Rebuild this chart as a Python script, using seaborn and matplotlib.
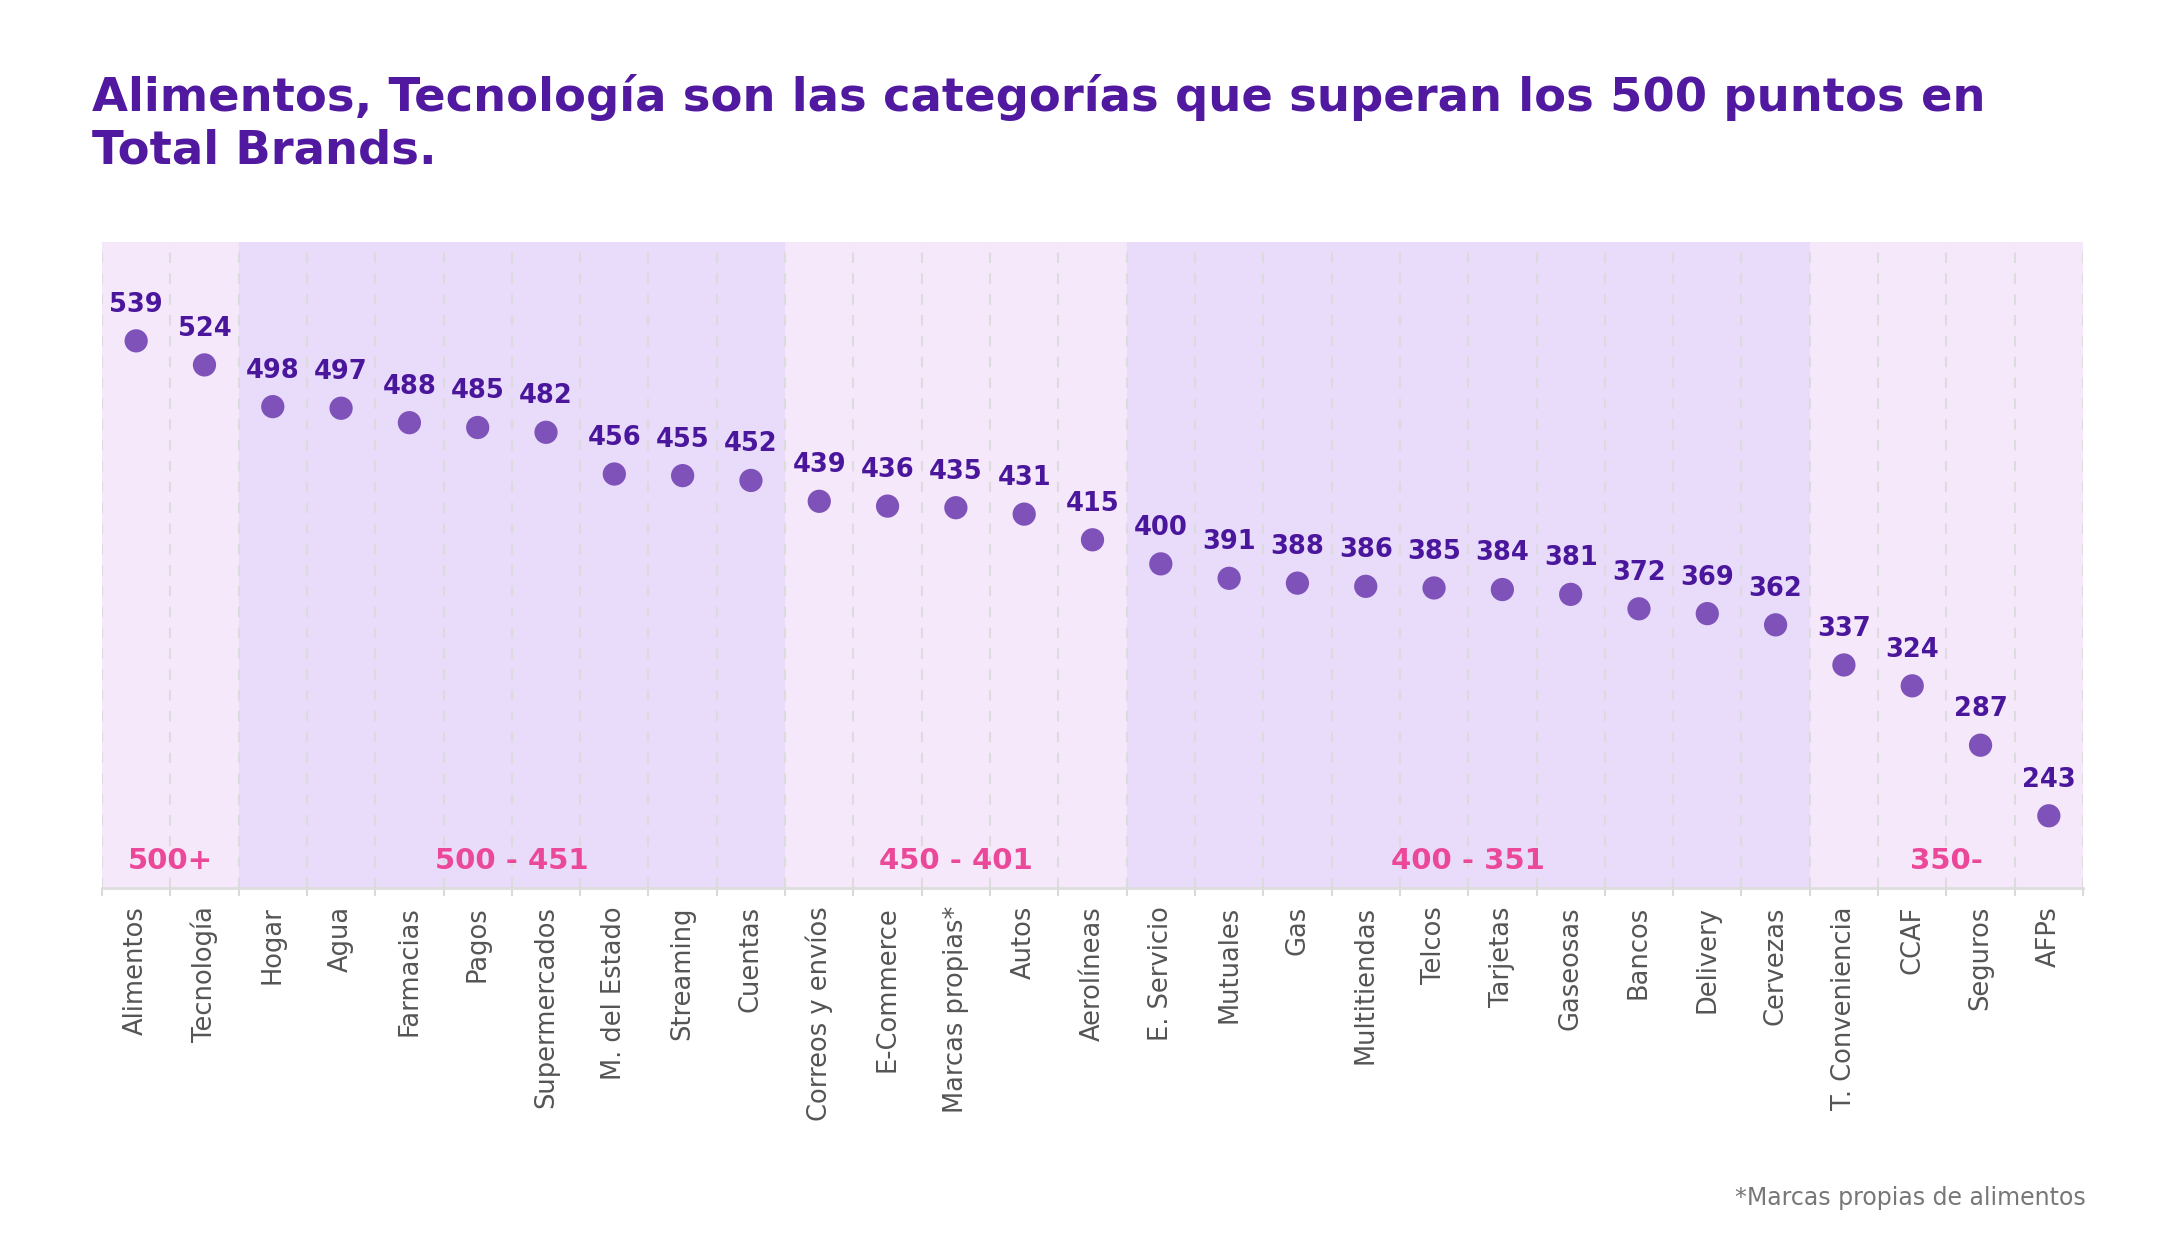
import matplotlib
matplotlib.use("Agg")
import matplotlib.pyplot as plt
import seaborn as sns
import pandas as pd
import numpy as np

categories = ["Alimentos", "Tecnología", "Hogar", "Agua", "Farmacias", "Pagos",
              "Supermercados", "M. del Estado", "Streaming", "Cuentas",
              "Correos y envíos", "E-Commerce", "Marcas propias*", "Autos",
              "Aerolíneas", "E. Servicio", "Mutuales", "Gas", "Multitiendas",
              "Telcos", "Tarjetas", "Gaseosas", "Bancos", "Delivery", "Cervezas",
              "T. Conveniencia", "CCAF", "Seguros", "AFPs"]
values = [539, 524, 498, 497, 488, 485, 482, 456, 455, 452, 439, 436, 435, 431,
          415, 400, 391, 388, 386, 385, 384, 381, 372, 369, 362, 337, 324, 287, 243]

band_labels = ["500+", "500 - 451", "450 - 401", "400 - 351", "350-"]
band_first = [0, 2, 10, 15, 25]
band_last = [1, 9, 14, 24, 28]

title = "Alimentos, Tecnología son las categorías que superan los 500 puntos en\nTotal Brands."
footnote = "*Marcas propias de alimentos"

PINK_BG = "#F5E8FA"
LAV_BG = "#E8DCFA"
DOT = "#7E52B9"
LABEL = "#4A169C"
BAND_TXT = "#EC4899"
TITLE = "#5118A0"

sns.set_theme(style="white")
plt.rcParams['font.family'] = ['DejaVu Sans']

fig = plt.figure(figsize=(21.8, 12.44), dpi=100)
ax = fig.add_axes([102/2180, 1-888/1244, (2083-102)/2180, (888-242)/1244])

df = pd.DataFrame({"cat": categories, "val": values, "x": np.arange(len(categories))})

# bands
for i, (a, b) in enumerate(zip(band_first, band_last)):
    col = PINK_BG if i % 2 == 0 else LAV_BG
    ax.axvspan(a - 0.5, b + 0.5, color=col, lw=0, zorder=0)
    ax.text((a + b) / 2, 215, band_labels[i], ha="center", va="center",
            fontsize=21, fontweight="bold", color=BAND_TXT, zorder=3.5)

# dashed gridlines at boundaries
for xb in np.arange(-0.5, len(categories), 1.0):
    ax.axvline(xb, color="#DADADA", lw=1.5, ls=(0, (5, 5)), zorder=3, alpha=0.9)

sns.scatterplot(data=df, x="x", y="val", s=280, color=DOT, edgecolor="none",
                ax=ax, zorder=4, legend=False)

for xi, v in zip(df["x"], df["val"]):
    ax.annotate(str(v), (xi, v), xytext=(0, 26), textcoords="offset points",
                ha="center", va="center", fontsize=18.5, fontweight="bold",
                color=LABEL, zorder=5)

ax.set_xlim(-0.5, len(categories) - 0.5)
ax.set_ylim(198, 600.6)
ax.set_xlabel("")
ax.set_ylabel("")
ax.set_yticks([])
ax.set_xticks(df["x"])
ax.set_xticklabels(categories, rotation=90, fontsize=18.5, color="#555555")
ax.set_xticks(np.arange(-0.5, len(categories), 1.0), minor=True)
ax.tick_params(axis="x", which="major", length=0, pad=13)
ax.tick_params(axis="x", which="minor", length=6, width=1.5, color="#DADADA",
               bottom=True)
for s in ["top", "left", "right"]:
    ax.spines[s].set_visible(False)
ax.spines["bottom"].set_color("#DDDDDD")
ax.spines["bottom"].set_linewidth(2)

fig.text(92/2180, 1-111/1244, title.split("\n")[0], ha="left", va="baseline",
         fontsize=33.5, fontweight="bold", color=TITLE)
fig.text(92/2180, 1-164/1244, title.split("\n")[1], ha="left", va="baseline",
         fontsize=33.5, fontweight="bold", color=TITLE)
fig.text(2086/2180, 1-1198/1244, footnote, ha="right", va="center",
         fontsize=17, color="#777777")

fig.savefig("out.png", dpi=100)
